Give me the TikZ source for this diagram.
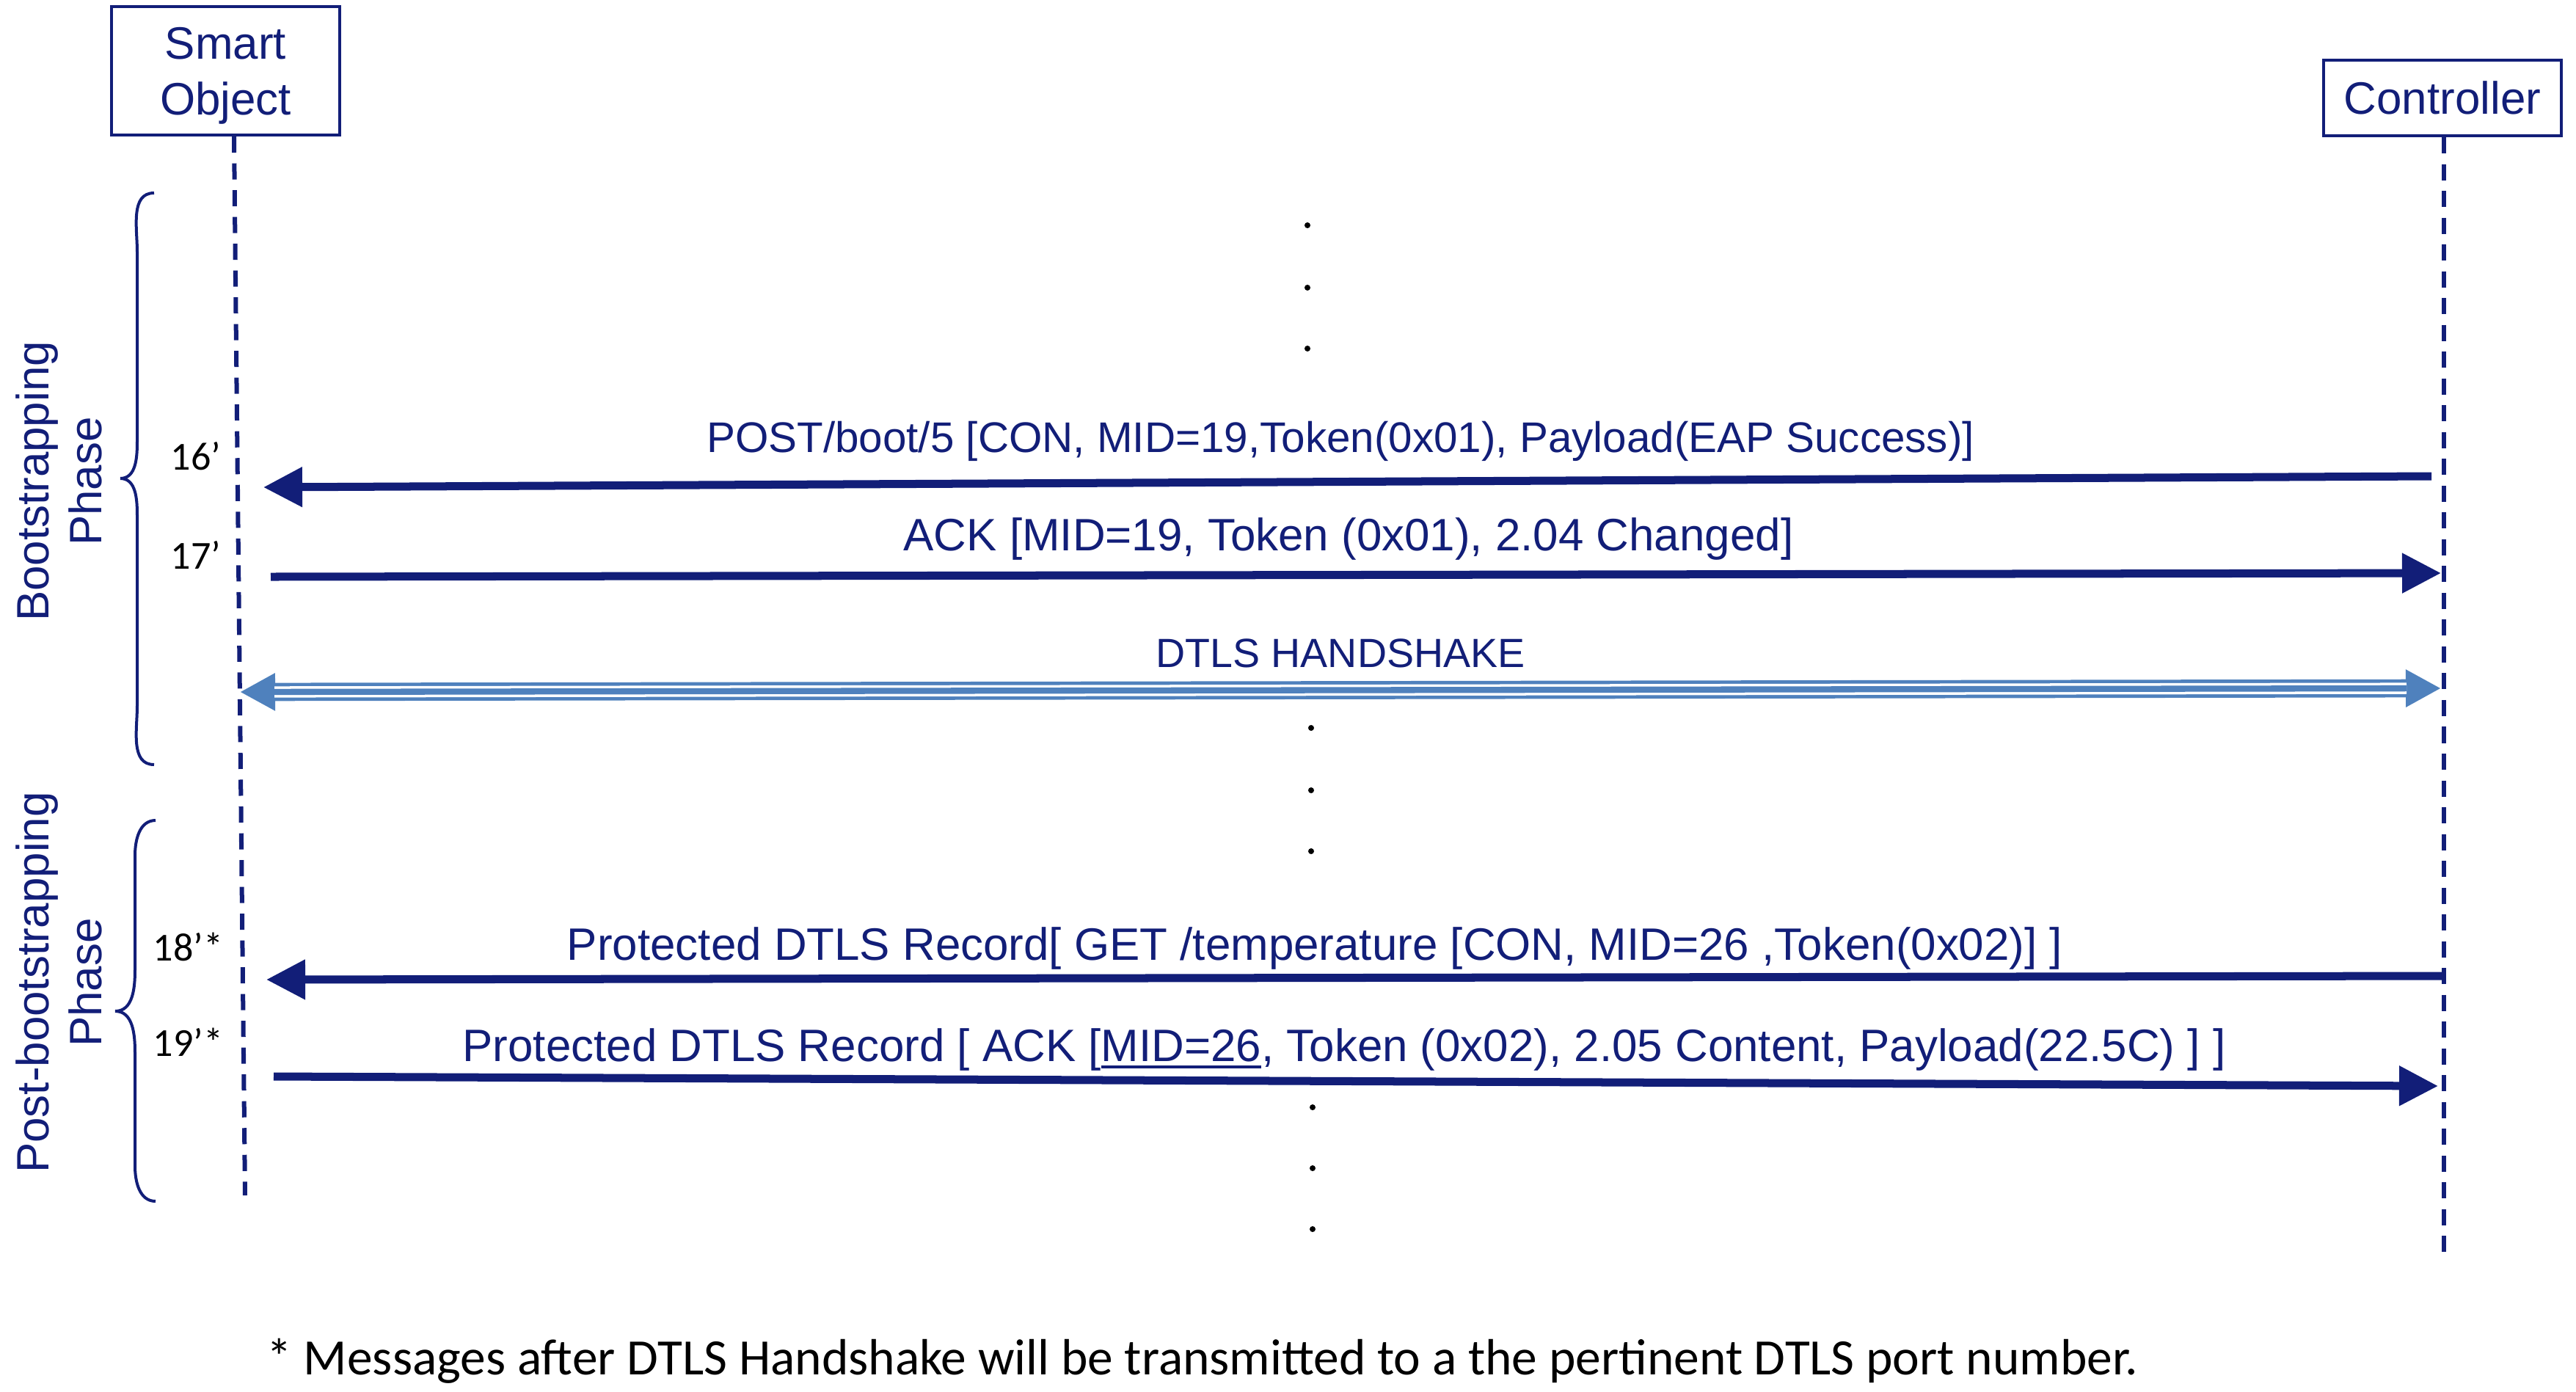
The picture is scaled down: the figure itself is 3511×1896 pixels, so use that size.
\documentclass[tikz,border=0pt]{standalone}
\usepackage{fontspec}
\setmainfont{Liberation Sans}
\newfontfamily\calibfont{Carlito}
\usepackage{tikz}
\usetikzlibrary{arrows.meta, positioning}
\usepackage{xcolor}
\definecolor{seqNavy}{HTML}{121E78}
\definecolor{shakeBlue}{HTML}{4F81BD}
\newcommand{\thickul}[1]{\vtop{\hbox{#1}\kern1.4pt\hrule height 1.2pt}}

\begin{document}
\begin{tikzpicture}[
    x=0.01cm, y=-0.01cm,
    actor/.style={rectangle, draw=seqNavy, line width=0.04cm, text=seqNavy, align=center, inner sep=0pt, font=\fontsize{17.6}{21.6}\selectfont},
    lifeline/.style={draw=seqNavy, line width=0.06cm, dash pattern=on 0.22cm off 0.145cm},
    msg/.style={text=seqNavy, inner sep=0pt, anchor=base, font=\fontsize{17.6}{21}\selectfont},
    arrow/.style={-{Triangle[length=0.53cm, width=0.52cm]}, draw=seqNavy, line width=0.11cm},
    shake/.style={{Triangle[length=0.48cm, width=0.48cm]}-{Triangle[length=0.48cm, width=0.48cm]}, draw=shakeBlue, line width=0.247cm,
        postaction={draw=white, line width=0.153cm, -, shorten <=0.47cm, shorten >=0.47cm},
        postaction={draw=shakeBlue, line width=0.083cm, -, shorten <=0.47cm, shorten >=0.47cm}},
    num/.style={inner sep=0pt, anchor=base west, font=\calibfont\fontsize{15.4}{18}\selectfont},
    phase/.style={text=seqNavy, align=center, rotate=90, inner sep=0pt, font=\fontsize{17.6}{20.5}\selectfont},
    phasebrace/.style={draw=seqNavy, line width=0.04cm},
    note/.style={inner sep=0pt, anchor=base west, font=\calibfont\fontsize{19.75}{23}\selectfont}
]
    \useasboundingbox (0,0) rectangle (3511,1896);

    % Actors and lifelines
    \node[actor, minimum width=3.11cm, minimum height=1.75cm, text depth=-1.4pt] (smart) at (307.5,96.5) {Smart\\Object};
    \node[actor, minimum width=3.24cm, minimum height=1.03cm] (ctrl) at (3329,133.5) {Controller};
    \coordinate (soTop) at (319,186);
    \coordinate (soEnd) at (334,1629);
    \coordinate (ctTop) at (3331,187);
    \coordinate (ctEnd) at (3331,1708);
    \draw[lifeline] (soTop) -- (soEnd);
    \draw[lifeline] (ctTop) -- (ctEnd);

    % Phases
    \node[phase] (bootPh) at (80,656) {Bootstrapping\\Phase};
    \node[phase] (postPh) at (80,1339) {Post-bootstrapping\\Phase};
    \coordinate (b1Top) at (210,263);
    \coordinate (b1Tip) at (164,652);
    \coordinate (b1Bot) at (210,1042);
    \coordinate (b2Top) at (212,1118);
    \coordinate (b2Tip) at (157,1378);
    \coordinate (b2Bot) at (212,1637);
    \draw[phasebrace] (b1Top) to[out=180,in=90] (187,343) -- (187,602) to[out=-90,in=0] (b1Tip)
        to[out=0,in=90] (187,702) -- (187,962) to[out=-90,in=180] (b1Bot);
    \draw[phasebrace] (b2Top) to[out=180,in=90] (184,1166) -- (184,1322) to[out=-90,in=0] (b2Tip)
        to[out=0,in=90] (184,1434) -- (184,1589) to[out=-90,in=180] (b2Bot);

    % Message end points
    \coordinate (ct16) at (3314,649);
    \coordinate (so16) at (359,664);
    \coordinate (so17) at (369,786);
    \coordinate (ct17) at (3327,781);
    \coordinate (soHs) at (327,943);
    \coordinate (ctHs) at (3327,938);
    \coordinate (ct18) at (3331,1330);
    \coordinate (so18) at (363,1335);
    \coordinate (so19) at (373,1467);
    \coordinate (ct19) at (3323,1480);

    % Messages
    \draw[arrow] (ct16) -- (so16);
    \draw[arrow] (so17) -- (ct17);
    \draw[shake] (soHs) -- (ctHs);
    \draw[arrow] (ct18) -- (so18);
    \draw[arrow] (so19) -- (ct19);

    \node[msg, font=\fontsize{16.6}{20}\selectfont] (t16) at (1827,616) {POST/boot/5 [CON, MID=19,Token(0x01), Payload(EAP Success)]};
    \node[msg] (t17) at (1838,750) {ACK [MID=19, Token (0x01), 2.04 Changed]};
    \node[msg, font=\fontsize{15.8}{19}\selectfont] (tHs) at (1827,909) {DTLS HANDSHAKE};
    \node[msg] (t18) at (1792,1308) {Protected DTLS Record[ GET /temperature [CON, MID=26 ,Token(0x02)] ]};
    \node[msg] (t19) at (1832,1446) {Protected DTLS Record [ ACK [\thickul{MID=26}, Token (0x02), 2.05 Content, Payload(22.5C) ] ]};

    % Step numbers
    \node[num] (n16) at (232,640) {16’};
    \node[num] (n17) at (232,775) {17’};
    \node[num] (n18) at (208,1309) {18’*};
    \node[num] (n19) at (208,1439) {19’*};

    % Omitted steps
    \foreach \xd/\yd in {1782/307, 1782/392, 1782/475, 1787/992, 1787/1077, 1787/1160, 1789/1509, 1789/1592, 1789/1675}
        \fill (\xd,\yd) circle (0.04cm);

    \node[note] (foot) at (363,1873) {* Messages after DTLS Handshake will be transmitted to a the pertinent DTLS port number.};
\end{tikzpicture}
\end{document}
